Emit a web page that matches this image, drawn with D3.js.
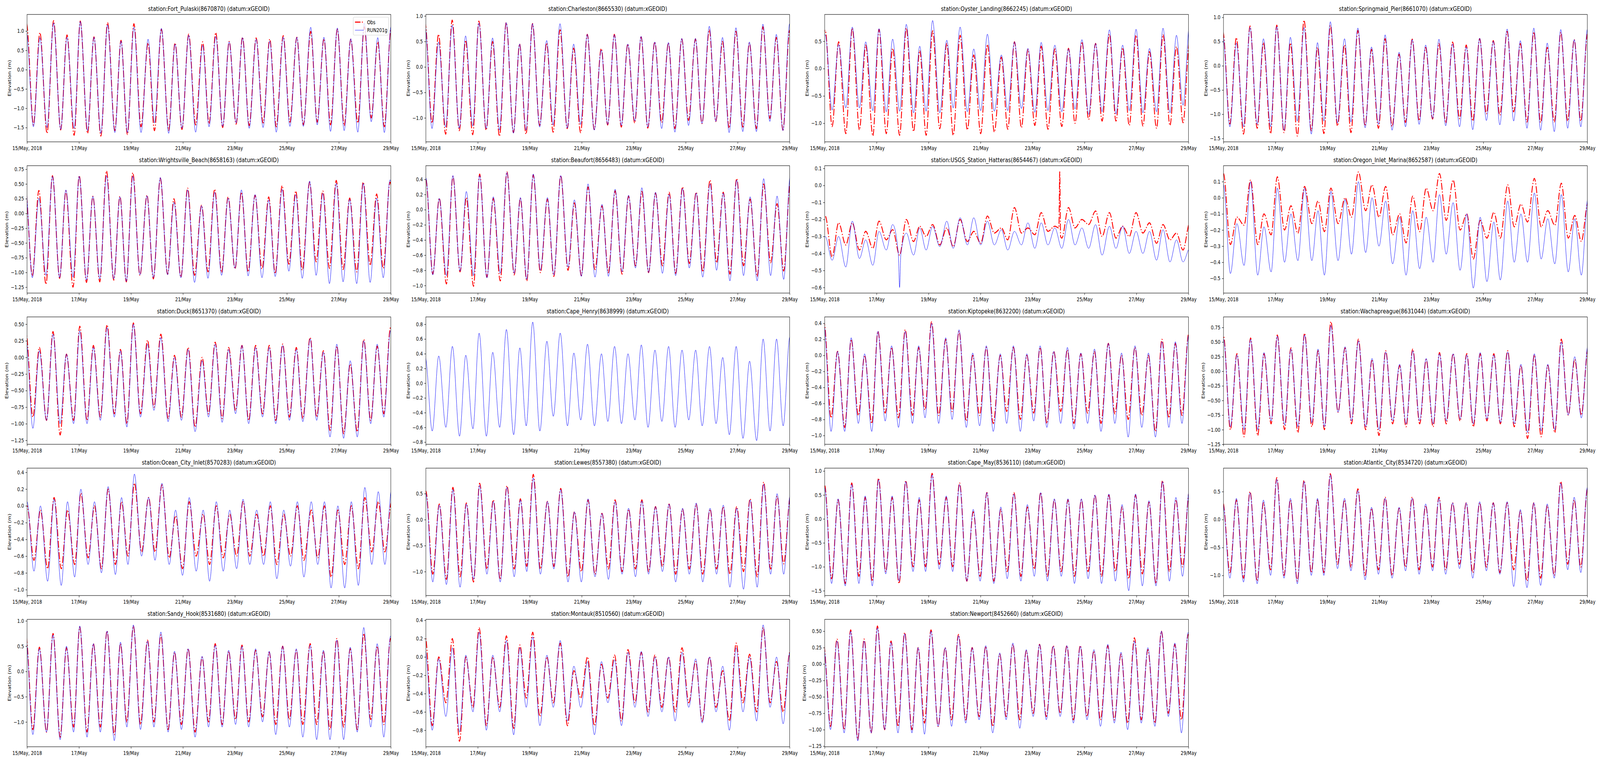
<!DOCTYPE html>
<html>
<head>
<meta charset="utf-8">
<script src="https://cdn.jsdelivr.net/npm/d3@7"></script>
<style>
  html, body { margin: 0; padding: 0; background: #fff; overflow: hidden; }
  #fig { display: block; width: 100vw; height: 100vh; }
  text { font-family: "DejaVu Sans", sans-serif; fill: #000; }
</style>
</head>
<body>
<svg id="fig"></svg>
<script>
// ---- time axis (hours after 15/May/2018 00:00) ----
const xTickHours = [0, 48, 96, 144, 192, 240, 288, 336];
const xTickLabels = ["15/May, 2018", "17/May", "19/May", "21/May", "23/May", "25/May", "27/May", "29/May"];

// high / low water times (hours); other stations are shifted by a lag
const hwHours = [-0.5, 11.9, 24.5, 36.9, 49.2, 61.8, 74.4, 86.8, 98.7, 111.8, 124.1, 136.7, 149.3, 162.2,
  174.3, 186.7, 199.0, 211.6, 224.2, 236.6, 249.2, 262.0, 274.2, 286.6, 299.0, 311.5, 323.9, 336.2];
const lwHours = [-6.6, 5.9, 18.5, 31.1, 43.5, 55.9, 68.2, 81.1, 92.7, 105.3, 117.7, 130.8, 143.1, 155.7,
  168.1, 180.7, 193.1, 205.2, 218.0, 230.2, 242.8, 255.2, 268.0, 280.3, 292.9, 305.5, 317.9, 330.0, 342.5];

// ---- stations ----
const stationNames = ["Fort_Pulaski", "Charleston", "Oyster_Landing", "Springmaid_Pier",
  "Wrightsville_Beach", "Beaufort", "USGS_Station_Hatteras", "Oregon_Inlet_Marina",
  "Duck", "Cape_Henry", "Kiptopeke", "Wachapreague",
  "Ocean_City_Inlet", "Lewes", "Cape_May", "Atlantic_City",
  "Sandy_Hook", "Montauk", "Newport"];
const stationIds = ["8670870", "8665530", "8662245", "8661070", "8658163", "8656483", "8654467", "8652587",
  "8651370", "8638999", "8632200", "8631044", "8570283", "8557380", "8536110", "8534720",
  "8531680", "8510560", "8452660"];
const stationLags = [0, -0.2, 1.0, 0, -1.0, 0.5, 1.0, 0.5, -0.5, 0, 0, 0.5, 0.5, 0.5, 0.5, 0, -0.5, 0, -0.5];
const yLimits = [[-1.87, 1.43], [-1.47, 1.03], [-1.34, 0.99], [-1.57, 1.06],
  [-1.35, 0.81], [-1.10, 0.58], [-0.633, 0.116], [-0.591, 0.199],
  [-1.31, 0.61], [-0.83, 0.90], [-1.11, 0.48], [-1.25, 0.93],
  [-1.07, 0.45], [-1.46, 0.99], [-1.60, 1.06], [-1.36, 0.92],
  [-1.49, 1.03], [-0.98, 0.41], [-1.26, 0.68]];
const yTicks = [
  [-1.5, -1.0, -0.5, 0.0, 0.5, 1.0], [-1.0, -0.5, 0.0, 0.5, 1.0], [-1.0, -0.5, 0.0, 0.5], [-1.5, -1.0, -0.5, 0.0, 0.5, 1.0],
  [-1.25, -1.0, -0.75, -0.5, -0.25, 0.0, 0.25, 0.5, 0.75], [-1.0, -0.8, -0.6, -0.4, -0.2, 0.0, 0.2, 0.4],
  [-0.6, -0.5, -0.4, -0.3, -0.2, -0.1, 0.0, 0.1], [-0.5, -0.4, -0.3, -0.2, -0.1, 0.0, 0.1],
  [-1.25, -1.0, -0.75, -0.5, -0.25, 0.0, 0.25, 0.5], [-0.8, -0.6, -0.4, -0.2, 0.0, 0.2, 0.4, 0.6, 0.8],
  [-1.0, -0.8, -0.6, -0.4, -0.2, 0.0, 0.2, 0.4], [-1.25, -1.0, -0.75, -0.5, -0.25, 0.0, 0.25, 0.5, 0.75],
  [-1.0, -0.8, -0.6, -0.4, -0.2, 0.0, 0.2, 0.4], [-1.0, -0.5, 0.0, 0.5], [-1.5, -1.0, -0.5, 0.0, 0.5, 1.0], [-1.0, -0.5, 0.0, 0.5],
  [-1.0, -0.5, 0.0, 0.5, 1.0], [-0.8, -0.6, -0.4, -0.2, 0.0, 0.2, 0.4], [-1.25, -1.0, -0.75, -0.5, -0.25, 0.0, 0.25, 0.5]];
const yTickDecimals = [1, 1, 1, 1, 2, 1, 1, 1, 2, 1, 1, 2, 1, 1, 1, 1, 1, 1, 2];

// ---- elevations at each high (Hi) and low (Lo) water, metres ----
const pulaskiObsHi = [1.20, 0.96, 1.27, 0.90, 1.26, 0.85, 1.22, 0.76, 1.19, 0.69, 1.05, 0.69, 0.92, 0.72, 0.96, 0.73, 0.84, 0.82, 0.79, 0.88, 0.84, 0.99, 0.80, 1.05, 0.79, 1.11, 0.72, 1.06];
const pulaskiObsLo = [-1.45, -1.43, -1.65, -1.56, -1.70, -1.65, -1.72, -1.58, -1.68, -1.48, -1.58, -1.57, -1.55, -1.43, -1.40, -1.50, -1.41, -1.45, -1.38, -1.48, -1.36, -1.43, -1.36, -1.43, -1.45, -1.38, -1.25, -1.48, -1.40];
const pulaskiModHi = [0.97, 0.83, 1.21, 0.84, 1.25, 0.84, 1.16, 0.74, 1.10, 0.79, 1.07, 0.66, 0.89, 0.63, 0.86, 0.72, 0.83, 0.79, 0.74, 0.84, 0.84, 1.10, 0.84, 1.08, 0.80, 1.21, 0.83, 1.12];
const pulaskiModLo = [-1.45, -1.48, -1.50, -1.55, -1.52, -1.58, -1.65, -1.63, -1.63, -1.63, -1.38, -1.65, -1.52, -1.62, -1.48, -1.47, -1.38, -1.52, -1.50, -1.62, -1.47, -1.47, -1.43, -1.60, -1.58, -1.62, -1.35, -1.63, -1.45];

const charlestonObsHi = [0.86, 0.64, 0.92, 0.52, 0.90, 0.50, 0.87, 0.45, 0.85, 0.47, 0.73, 0.37, 0.64, 0.36, 0.64, 0.45, 0.59, 0.49, 0.47, 0.55, 0.55, 0.73, 0.50, 0.70, 0.47, 0.79, 0.58, 0.72];
const charlestonObsLo = [-1.20, -1.10, -1.32, -1.25, -1.33, -1.24, -1.36, -1.29, -1.32, -1.15, -1.28, -1.21, -1.29, -1.23, -1.14, -1.18, -1.10, -1.20, -1.09, -1.21, -1.05, -1.11, -1.07, -1.20, -1.18, -1.21, -1.01, -1.24, -1.10];
const charlestonModHi = [0.80, 0.49, 0.82, 0.61, 0.86, 0.57, 0.87, 0.45, 0.85, 0.52, 0.85, 0.45, 0.64, 0.33, 0.63, 0.45, 0.60, 0.49, 0.48, 0.56, 0.56, 0.80, 0.58, 0.77, 0.49, 0.84, 0.64, 0.85];
const charlestonModLo = [-1.20, -1.21, -1.18, -1.20, -1.16, -1.21, -1.24, -1.30, -1.24, -1.18, -1.14, -1.20, -1.13, -1.24, -1.13, -1.15, -1.06, -1.18, -1.21, -1.28, -1.15, -1.11, -1.07, -1.29, -1.27, -1.27, -1.07, -1.25, -1.10];

const oysterObsHi = [0.70, 0.49, 0.74, 0.43, 0.72, 0.37, 0.74, 0.33, 0.69, 0.46, 0.61, 0.25, 0.44, 0.21, 0.49, 0.35, 0.41, 0.36, 0.37, 0.49, 0.46, 0.63, 0.38, 0.61, 0.31, 0.62, 0.40, 0.55];
const oysterObsLo = [-1.10, -1.06, -1.19, -1.12, -1.23, -1.19, -1.22, -1.15, -1.22, -1.10, -1.22, -1.12, -1.19, -1.16, -1.11, -1.08, -1.04, -1.11, -1.06, -1.00, -0.93, -0.96, -0.96, -1.04, -1.05, -1.09, -1.04, -0.99, -1.00];
const oysterModHi = [0.62, 0.44, 0.76, 0.49, 0.73, 0.54, 0.81, 0.41, 0.88, 0.52, 0.76, 0.36, 0.63, 0.25, 0.49, 0.37, 0.48, 0.43, 0.36, 0.53, 0.46, 0.71, 0.43, 0.72, 0.37, 0.74, 0.61, 0.84];
const oysterModLo = [-0.75, -0.76, -0.72, -0.72, -0.77, -0.79, -0.78, -0.81, -0.78, -0.81, -0.72, -0.79, -0.77, -0.78, -0.77, -0.73, -0.80, -0.77, -0.79, -0.74, -0.84, -0.79, -0.83, -0.77, -0.81, -0.79, -0.81, -0.67, -0.75];

const springmaidObsHi = [0.70, 0.58, 0.82, 0.48, 0.84, 0.47, 0.94, 0.38, 0.83, 0.43, 0.73, 0.34, 0.56, 0.24, 0.55, 0.38, 0.46, 0.49, 0.43, 0.56, 0.52, 0.71, 0.46, 0.70, 0.38, 0.69, 0.54, 0.66];
const springmaidObsLo = [-1.20, -1.20, -1.41, -1.29, -1.40, -1.38, -1.45, -1.34, -1.40, -1.24, -1.38, -1.24, -1.29, -1.25, -1.17, -1.13, -1.10, -1.18, -1.09, -1.14, -0.99, -1.02, -0.95, -1.16, -1.17, -1.16, -1.14, -1.14, -1.10];
const springmaidModHi = [0.62, 0.47, 0.79, 0.56, 0.81, 0.59, 0.79, 0.48, 0.91, 0.56, 0.78, 0.39, 0.64, 0.28, 0.54, 0.43, 0.55, 0.45, 0.39, 0.57, 0.51, 0.76, 0.52, 0.78, 0.47, 0.75, 0.54, 0.76];
const springmaidModLo = [-1.20, -1.26, -1.26, -1.21, -1.26, -1.33, -1.14, -1.41, -1.14, -1.18, -1.16, -1.28, -1.21, -1.33, -1.26, -1.21, -1.09, -1.24, -1.26, -1.32, -1.13, -1.22, -1.14, -1.29, -1.33, -1.36, -1.29, -1.26, -1.20];

const wrightsvilleObsHi = [0.42, 0.39, 0.64, 0.38, 0.64, 0.29, 0.72, 0.29, 0.69, 0.31, 0.60, 0.25, 0.43, 0.14, 0.41, 0.28, 0.36, 0.31, 0.28, 0.47, 0.38, 0.53, 0.38, 0.56, 0.26, 0.53, 0.33, 0.53];
const wrightsvilleObsLo = [-1.00, -1.06, -1.20, -1.10, -1.25, -1.17, -1.16, -1.13, -1.16, -1.05, -1.11, -1.03, -1.08, -1.05, -0.99, -1.00, -0.94, -0.99, -0.94, -1.02, -0.86, -0.96, -0.82, -0.93, -0.95, -0.99, -0.88, -0.93, -0.90];
const wrightsvilleModHi = [0.47, 0.26, 0.63, 0.40, 0.63, 0.29, 0.64, 0.28, 0.63, 0.30, 0.61, 0.19, 0.40, 0.13, 0.36, 0.26, 0.40, 0.32, 0.23, 0.41, 0.32, 0.55, 0.34, 0.51, 0.24, 0.51, 0.26, 0.57];
const wrightsvilleModLo = [-1.00, -1.09, -1.05, -1.09, -1.08, -1.13, -1.11, -1.11, -1.15, -1.04, -1.09, -1.04, -1.09, -1.17, -1.10, -1.05, -0.93, -1.06, -1.09, -1.07, -0.98, -1.10, -1.05, -1.19, -1.16, -1.19, -1.17, -1.09, -1.00];

const beaufortObsHi = [0.40, 0.15, 0.44, 0.16, 0.47, 0.15, 0.50, 0.15, 0.46, 0.14, 0.45, 0.09, 0.30, 0.05, 0.25, 0.18, 0.24, 0.22, 0.23, 0.30, 0.23, 0.39, 0.23, 0.41, 0.14, 0.34, 0.08, 0.38];
const beaufortObsLo = [-0.80, -0.85, -0.98, -0.82, -1.01, -0.89, -0.94, -0.86, -0.94, -0.83, -0.88, -0.80, -0.87, -0.79, -0.83, -0.85, -0.74, -0.83, -0.74, -0.84, -0.71, -0.82, -0.70, -0.85, -0.74, -0.88, -0.70, -0.81, -0.80];
const beaufortModHi = [0.42, 0.15, 0.45, 0.24, 0.45, 0.17, 0.49, 0.16, 0.47, 0.16, 0.45, 0.13, 0.34, 0.07, 0.27, 0.19, 0.29, 0.23, 0.20, 0.28, 0.22, 0.34, 0.22, 0.39, 0.17, 0.41, 0.18, 0.47];
const beaufortModLo = [-0.80, -0.86, -0.87, -0.81, -0.87, -0.90, -0.84, -0.84, -0.92, -0.80, -0.86, -0.76, -0.88, -0.89, -0.88, -0.82, -0.77, -0.83, -0.84, -0.87, -0.77, -0.89, -0.80, -0.94, -0.87, -0.94, -0.87, -0.92, -0.85];

const hatterasObsHi = [-0.18, -0.22, -0.22, -0.27, -0.21, -0.26, -0.20, -0.24, -0.23, -0.25, -0.20, -0.27, -0.18, -0.25, -0.13, -0.25, -0.16, -0.24, -0.13, -0.20, -0.15, -0.16, -0.24, -0.16, -0.22, -0.23, -0.28, -0.22];
const hatterasObsLo = [-0.30, -0.42, -0.35, -0.38, -0.37, -0.32, -0.41, -0.33, -0.30, -0.35, -0.36, -0.33, -0.34, -0.28, -0.32, -0.28, -0.29, -0.27, -0.31, -0.25, -0.23, -0.30, -0.31, -0.30, -0.28, -0.34, -0.32, -0.38, -0.30];
const hatterasModHi = [-0.30, -0.30, -0.21, -0.32, -0.27, -0.23, -0.28, -0.25, -0.24, -0.21, -0.19, -0.19, -0.21, -0.26, -0.27, -0.22, -0.22, -0.25, -0.20, -0.25, -0.23, -0.24, -0.24, -0.27, -0.27, -0.26, -0.32, -0.37];
const hatterasModLo = [-0.40, -0.44, -0.48, -0.43, -0.47, -0.38, -0.60, -0.41, -0.38, -0.36, -0.37, -0.35, -0.35, -0.35, -0.38, -0.35, -0.37, -0.35, -0.37, -0.35, -0.37, -0.41, -0.37, -0.40, -0.40, -0.44, -0.45, -0.45, -0.40];
// short spikes [hour, metres]
const hatterasObsExtra = [[216.3, -0.25], [217.1, 0.08], [217.9, -0.30]];
const hatterasModExtra = [[68.0, -0.40], [70.4, -0.40]];

const oregonObsHi = [0.15, -0.12, 0.11, -0.10, 0.13, -0.05, 0.07, -0.02, 0.06, 0.00, 0.16, 0.08, 0.07, -0.10, 0.01, 0.06, 0.15, 0.11, -0.10, -0.14, -0.09, 0.08, -0.04, 0.12, -0.08, 0.09, -0.11, -0.03];
const oregonObsLo = [-0.20, -0.29, -0.17, -0.29, -0.23, -0.20, -0.22, -0.16, -0.21, -0.16, -0.12, -0.08, -0.12, -0.23, -0.28, -0.21, -0.08, -0.14, -0.20, -0.38, -0.25, -0.25, -0.18, -0.15, -0.18, -0.17, -0.25, -0.27, -0.20];
const oregonModHi = [0.08, -0.16, 0.10, -0.18, 0.06, -0.10, 0.06, -0.08, 0.04, -0.01, 0.10, 0.00, -0.02, -0.12, -0.08, -0.12, 0.02, -0.03, -0.10, -0.12, -0.15, -0.02, -0.10, 0.03, -0.13, 0.02, -0.13, 0.00];
const oregonModLo = [-0.40, -0.47, -0.42, -0.48, -0.46, -0.40, -0.39, -0.39, -0.48, -0.39, -0.35, -0.34, -0.30, -0.41, -0.48, -0.44, -0.40, -0.35, -0.45, -0.56, -0.52, -0.51, -0.40, -0.40, -0.38, -0.41, -0.46, -0.48, -0.40];

const duckObsHi = [0.38, 0.15, 0.39, 0.05, 0.47, 0.18, 0.49, 0.12, 0.52, 0.26, 0.35, 0.03, 0.15, 0.00, 0.23, 0.15, 0.18, 0.18, 0.18, 0.20, 0.15, 0.30, 0.10, 0.17, -0.10, 0.27, 0.17, 0.45];
const duckObsLo = [-0.90, -0.90, -0.95, -1.17, -0.95, -0.95, -0.90, -0.85, -1.00, -0.85, -0.75, -0.92, -0.90, -1.05, -0.85, -0.92, -0.80, -0.95, -0.85, -0.95, -0.90, -0.92, -0.90, -1.10, -1.15, -1.12, -0.95, -0.85, -0.90];
const duckModHi = [0.30, 0.10, 0.35, 0.05, 0.40, 0.15, 0.45, 0.10, 0.50, 0.20, 0.30, 0.00, 0.12, -0.05, 0.20, 0.12, 0.18, 0.15, 0.15, 0.18, 0.12, 0.28, 0.08, 0.20, -0.05, 0.25, 0.20, 0.40];
const duckModLo = [-1.00, -1.07, -0.95, -1.00, -1.00, -1.00, -0.95, -0.90, -1.05, -0.90, -0.80, -0.97, -0.95, -1.12, -0.90, -0.98, -0.85, -1.00, -0.90, -1.00, -0.95, -0.97, -0.95, -1.20, -1.22, -1.20, -1.00, -0.90, -1.00];

const capeHenryModHi = [0.35, 0.37, 0.50, 0.38, 0.68, 0.42, 0.73, 0.48, 0.83, 0.57, 0.68, 0.41, 0.53, 0.40, 0.50, 0.40, 0.52, 0.45, 0.50, 0.45, 0.45, 0.50, 0.35, 0.50, 0.30, 0.60, 0.60, 0.63];
const capeHenryModLo = [-0.60, -0.65, -0.60, -0.72, -0.62, -0.72, -0.60, -0.70, -0.58, -0.65, -0.45, -0.58, -0.50, -0.58, -0.52, -0.55, -0.50, -0.60, -0.52, -0.60, -0.50, -0.58, -0.55, -0.70, -0.75, -0.78, -0.65, -0.58, -0.60];

const kiptopekeObsHi = [0.40, 0.05, 0.20, 0.00, 0.30, 0.10, 0.32, 0.10, 0.42, 0.20, 0.30, 0.00, 0.10, 0.00, 0.10, 0.00, 0.10, 0.05, 0.07, 0.02, 0.05, 0.15, 0.00, 0.10, 0.00, 0.20, 0.15, 0.27];
const kiptopekeObsLo = [-0.80, -0.78, -0.90, -0.75, -0.85, -0.72, -0.78, -0.75, -0.68, -0.75, -0.70, -0.82, -0.75, -0.85, -0.70, -0.80, -0.72, -0.85, -0.70, -0.85, -0.72, -0.85, -0.73, -0.80, -0.75, -0.95, -0.78, -0.75, -0.80];
const kiptopekeModHi = [0.37, 0.05, 0.22, 0.02, 0.30, 0.12, 0.30, 0.12, 0.40, 0.22, 0.32, 0.03, 0.12, 0.02, 0.12, 0.02, 0.12, 0.05, 0.10, 0.03, 0.08, 0.15, 0.03, 0.12, 0.03, 0.17, 0.17, 0.25];
const kiptopekeModLo = [-0.90, -0.95, -0.95, -0.85, -0.95, -0.82, -0.90, -0.85, -0.78, -0.85, -0.80, -0.90, -0.88, -0.95, -0.85, -0.95, -0.82, -0.90, -0.85, -0.92, -0.85, -0.95, -0.85, -1.02, -0.90, -1.02, -0.90, -0.85, -0.90];

const wachapreagueObsHi = [0.60, 0.30, 0.57, 0.30, 0.62, 0.40, 0.65, 0.35, 0.85, 0.40, 0.55, 0.20, 0.35, 0.10, 0.38, 0.20, 0.32, 0.30, 0.30, 0.30, 0.30, 0.35, 0.10, 0.28, 0.10, 0.55, 0.20, 0.40];
const wachapreagueObsLo = [-0.90, -1.00, -1.12, -1.10, -0.90, -1.00, -1.05, -0.95, -1.00, -0.70, -0.90, -1.00, -1.10, -0.90, -0.95, -0.90, -0.95, -0.90, -0.85, -0.95, -0.85, -0.90, -0.95, -1.15, -1.12, -1.05, -0.75, -0.75, -0.80];
const wachapreagueModHi = [0.55, 0.28, 0.55, 0.32, 0.60, 0.38, 0.62, 0.38, 0.78, 0.42, 0.52, 0.22, 0.33, 0.12, 0.35, 0.22, 0.30, 0.30, 0.28, 0.32, 0.28, 0.33, 0.12, 0.30, 0.12, 0.50, 0.25, 0.45];
const wachapreagueModLo = [-0.90, -0.95, -1.00, -1.00, -0.85, -0.92, -0.95, -0.88, -0.95, -0.70, -0.85, -0.95, -1.00, -0.85, -0.90, -0.85, -0.90, -0.85, -0.82, -0.90, -0.82, -0.88, -0.90, -1.05, -1.02, -1.00, -0.75, -0.80, -0.80];

const oceanCityObsHi = [0.00, -0.05, 0.10, -0.05, 0.15, 0.00, 0.20, 0.05, 0.27, 0.10, 0.25, -0.12, 0.05, -0.10, 0.00, -0.10, 0.05, -0.10, 0.00, -0.10, 0.00, -0.05, 0.00, -0.05, 0.00, 0.10, 0.05, 0.05];
const oceanCityObsLo = [-0.60, -0.65, -0.75, -0.75, -0.70, -0.62, -0.75, -0.70, -0.60, -0.55, -0.55, -0.62, -0.75, -0.60, -0.70, -0.62, -0.60, -0.60, -0.60, -0.70, -0.60, -0.65, -0.62, -0.85, -0.70, -0.75, -0.55, -0.55, -0.60];
const oceanCityModHi = [0.05, 0.00, 0.08, 0.05, 0.20, 0.05, 0.23, 0.10, 0.38, 0.10, 0.27, -0.05, 0.10, -0.05, 0.05, -0.05, 0.08, -0.05, 0.05, -0.05, 0.05, 0.05, 0.05, 0.00, 0.05, 0.22, 0.17, 0.20];
const oceanCityModLo = [-0.70, -0.78, -0.90, -0.95, -0.85, -0.70, -0.80, -0.82, -0.70, -0.60, -0.65, -0.70, -0.83, -0.78, -0.90, -0.78, -0.75, -0.70, -0.70, -0.87, -0.72, -0.85, -0.70, -0.98, -0.98, -0.95, -0.70, -0.70, -0.70];

const lewesObsHi = [0.55, 0.30, 0.62, 0.32, 0.70, 0.38, 0.65, 0.40, 0.87, 0.35, 0.60, 0.15, 0.38, 0.12, 0.38, 0.20, 0.38, 0.25, 0.30, 0.20, 0.30, 0.20, 0.25, 0.25, 0.40, 0.72, 0.45, 0.45];
const lewesObsLo = [-1.00, -1.05, -1.15, -1.10, -1.20, -0.95, -1.15, -0.95, -0.90, -0.95, -0.90, -1.10, -1.00, -1.05, -0.95, -1.00, -0.95, -1.00, -0.90, -1.05, -0.95, -1.05, -0.95, -1.05, -1.00, -1.10, -0.95, -0.85, -0.90];
const lewesModHi = [0.50, 0.28, 0.58, 0.30, 0.66, 0.35, 0.62, 0.38, 0.80, 0.35, 0.58, 0.15, 0.40, 0.12, 0.35, 0.22, 0.36, 0.25, 0.30, 0.22, 0.32, 0.22, 0.28, 0.22, 0.38, 0.68, 0.50, 0.50];
const lewesModLo = [-1.10, -1.20, -1.25, -1.30, -1.15, -1.05, -1.20, -1.10, -1.00, -1.05, -0.95, -1.20, -1.20, -1.10, -1.15, -1.05, -1.10, -1.05, -1.00, -1.20, -1.05, -1.20, -1.05, -1.30, -1.34, -1.30, -1.05, -1.05, -1.10];

const capeMayObsHi = [0.70, 0.40, 0.75, 0.45, 0.85, 0.45, 0.80, 0.40, 0.95, 0.45, 0.75, 0.15, 0.55, 0.20, 0.55, 0.25, 0.55, 0.40, 0.40, 0.40, 0.50, 0.50, 0.25, 0.50, 0.35, 0.80, 0.40, 0.55];
const capeMayObsLo = [-1.20, -1.25, -1.35, -1.20, -1.30, -1.10, -1.35, -1.00, -1.00, -0.95, -1.00, -1.30, -1.20, -1.30, -1.10, -1.20, -1.05, -1.20, -1.10, -1.20, -1.10, -1.20, -1.10, -1.25, -1.15, -1.35, -1.10, -1.00, -1.10];
const capeMayModHi = [0.65, 0.42, 0.72, 0.48, 0.82, 0.48, 0.78, 0.45, 0.92, 0.48, 0.72, 0.20, 0.55, 0.25, 0.52, 0.30, 0.55, 0.42, 0.42, 0.42, 0.50, 0.52, 0.30, 0.52, 0.38, 0.78, 0.45, 0.60];
const capeMayModLo = [-1.30, -1.35, -1.40, -1.35, -1.40, -1.15, -1.30, -1.10, -1.10, -1.05, -1.10, -1.30, -1.30, -1.35, -1.25, -1.30, -1.20, -1.30, -1.20, -1.35, -1.25, -1.35, -1.30, -1.50, -1.40, -1.40, -1.30, -1.20, -1.20];

const atlanticCityObsHi = [0.30, 0.35, 0.50, 0.30, 0.75, 0.35, 0.70, 0.35, 0.82, 0.35, 0.55, 0.20, 0.40, 0.20, 0.40, 0.25, 0.40, 0.30, 0.30, 0.30, 0.30, 0.30, 0.15, 0.30, 0.25, 0.68, 0.35, 0.55];
const atlanticCityObsLo = [-0.90, -0.95, -1.05, -1.10, -0.90, -1.00, -1.10, -0.95, -0.95, -0.80, -0.85, -1.00, -0.90, -1.00, -0.85, -0.90, -0.85, -0.90, -0.80, -0.95, -0.85, -0.95, -0.90, -1.10, -1.05, -1.00, -0.80, -0.85, -0.90];
const atlanticCityModHi = [0.28, 0.38, 0.48, 0.35, 0.72, 0.38, 0.68, 0.38, 0.80, 0.38, 0.52, 0.22, 0.38, 0.22, 0.38, 0.28, 0.38, 0.30, 0.30, 0.32, 0.30, 0.32, 0.18, 0.30, 0.28, 0.65, 0.40, 0.58];
const atlanticCityModLo = [-1.00, -1.05, -1.12, -1.15, -1.00, -1.05, -1.15, -1.00, -1.00, -0.88, -0.92, -1.08, -0.98, -1.05, -0.92, -0.98, -0.92, -0.98, -0.88, -1.05, -0.92, -0.98, -1.20, -1.22, -1.18, -1.05, -0.90, -0.95, -1.00];

const sandyHookObsHi = [0.70, 0.48, 0.75, 0.47, 0.88, 0.55, 0.80, 0.55, 0.90, 0.62, 0.72, 0.38, 0.45, 0.28, 0.55, 0.40, 0.52, 0.42, 0.38, 0.50, 0.42, 0.55, 0.40, 0.65, 0.45, 0.75, 0.50, 0.65];
const sandyHookObsLo = [-1.10, -1.15, -1.20, -1.30, -1.10, -1.20, -1.10, -1.25, -1.00, -1.05, -1.00, -1.15, -1.05, -1.20, -1.00, -1.05, -0.95, -1.00, -0.90, -1.05, -0.95, -1.05, -1.05, -1.15, -1.10, -1.15, -0.95, -1.05, -1.00];
const sandyHookModHi = [0.65, 0.45, 0.72, 0.50, 0.90, 0.55, 0.80, 0.58, 0.92, 0.60, 0.78, 0.40, 0.45, 0.30, 0.52, 0.42, 0.50, 0.45, 0.40, 0.50, 0.45, 0.52, 0.42, 0.62, 0.48, 0.87, 0.55, 0.70];
const sandyHookModLo = [-1.20, -1.25, -1.20, -1.35, -1.20, -1.30, -1.20, -1.37, -1.10, -1.15, -1.10, -1.20, -1.15, -1.30, -1.10, -1.10, -1.05, -1.10, -1.00, -1.25, -1.10, -1.30, -1.35, -1.35, -1.35, -1.20, -1.10, -1.30, -1.20];

const montaukObsHi = [0.22, 0.00, 0.20, 0.00, 0.32, 0.00, 0.23, 0.13, 0.27, 0.00, 0.15, -0.15, 0.00, -0.08, 0.02, 0.08, 0.05, 0.02, 0.00, 0.10, -0.05, 0.00, -0.15, 0.15, 0.03, 0.32, -0.05, 0.05];
const montaukObsLo = [-0.60, -0.75, -0.50, -0.92, -0.55, -0.75, -0.55, -0.78, -0.45, -0.65, -0.50, -0.75, -0.45, -0.75, -0.45, -0.70, -0.50, -0.60, -0.55, -0.60, -0.50, -0.70, -0.55, -0.70, -0.50, -0.60, -0.50, -0.60, -0.60];
const montaukModHi = [0.07, -0.02, 0.10, 0.02, 0.27, 0.02, 0.18, 0.10, 0.22, 0.02, 0.18, -0.10, -0.05, -0.05, -0.03, 0.05, 0.06, 0.00, 0.00, 0.05, -0.02, 0.00, -0.10, 0.10, 0.00, 0.35, 0.00, 0.05];
const montaukModLo = [-0.70, -0.80, -0.65, -0.82, -0.60, -0.80, -0.60, -0.85, -0.55, -0.75, -0.55, -0.70, -0.55, -0.85, -0.50, -0.75, -0.55, -0.65, -0.60, -0.70, -0.55, -0.72, -0.60, -0.80, -0.60, -0.70, -0.55, -0.73, -0.70];

const newportObsHi = [0.30, 0.38, 0.52, 0.38, 0.58, 0.35, 0.48, 0.25, 0.52, 0.25, 0.45, 0.25, 0.27, 0.15, 0.30, 0.20, 0.30, 0.28, 0.28, 0.28, 0.20, 0.28, 0.15, 0.40, 0.22, 0.50, 0.30, 0.45];
const newportObsLo = [-0.90, -0.95, -1.00, -1.15, -1.05, -1.00, -0.95, -1.00, -0.90, -0.95, -0.85, -0.85, -0.80, -0.95, -0.80, -0.85, -0.75, -0.80, -0.75, -0.85, -0.80, -0.85, -0.85, -0.90, -0.85, -0.90, -0.75, -0.85, -0.90];
const newportModHi = [0.28, 0.35, 0.50, 0.35, 0.55, 0.33, 0.46, 0.25, 0.50, 0.25, 0.43, 0.25, 0.28, 0.17, 0.32, 0.22, 0.30, 0.27, 0.28, 0.27, 0.22, 0.30, 0.18, 0.35, 0.25, 0.50, 0.32, 0.48];
const newportModLo = [-1.00, -1.00, -1.05, -1.17, -1.05, -1.00, -1.05, -1.05, -1.07, -0.95, -0.95, -0.90, -0.85, -1.05, -0.85, -0.98, -0.80, -0.85, -0.80, -0.90, -0.85, -0.95, -0.90, -1.00, -0.90, -0.95, -0.80, -1.05, -1.00];

// per-station lookup (same order as stationNames)
const obsHi = [pulaskiObsHi, charlestonObsHi, oysterObsHi, springmaidObsHi, wrightsvilleObsHi, beaufortObsHi, hatterasObsHi, oregonObsHi,
  duckObsHi, null, kiptopekeObsHi, wachapreagueObsHi, oceanCityObsHi, lewesObsHi, capeMayObsHi, atlanticCityObsHi,
  sandyHookObsHi, montaukObsHi, newportObsHi];
const obsLo = [pulaskiObsLo, charlestonObsLo, oysterObsLo, springmaidObsLo, wrightsvilleObsLo, beaufortObsLo, hatterasObsLo, oregonObsLo,
  duckObsLo, null, kiptopekeObsLo, wachapreagueObsLo, oceanCityObsLo, lewesObsLo, capeMayObsLo, atlanticCityObsLo,
  sandyHookObsLo, montaukObsLo, newportObsLo];
const modHi = [pulaskiModHi, charlestonModHi, oysterModHi, springmaidModHi, wrightsvilleModHi, beaufortModHi, hatterasModHi, oregonModHi,
  duckModHi, capeHenryModHi, kiptopekeModHi, wachapreagueModHi, oceanCityModHi, lewesModHi, capeMayModHi, atlanticCityModHi,
  sandyHookModHi, montaukModHi, newportModHi];
const modLo = [pulaskiModLo, charlestonModLo, oysterModLo, springmaidModLo, wrightsvilleModLo, beaufortModLo, hatterasModLo, oregonModLo,
  duckModLo, capeHenryModLo, kiptopekeModLo, wachapreagueModLo, oceanCityModLo, lewesModLo, capeMayModLo, atlanticCityModLo,
  sandyHookModLo, montaukModLo, newportModLo];
const obsExtra = {6: hatterasObsExtra};
const modExtra = {6: hatterasModExtra};

// ---- layout (matplotlib 4x5 grid at 100 dpi) ----
const W = 5150, H = 1950;
const PT = 100 / 72;                 // px per point
const FS = 10 * PT;                  // 10pt font
const panelW = 1171, panelH = 326;
const colLeft = c => 87 + c * 1283.7;
const rowTop = r => 37 + r * 387;

// fixed coordinate system, scaled to whatever the window is
const svg = d3.select("#fig")
    .attr("viewBox", `0 0 ${W} ${H}`)
    .attr("preserveAspectRatio", "none");
svg.append("rect").attr("width", W).attr("height", H).attr("fill", "#fff");

// join high and low water values into one time-ordered series
function tidePoints(lo, hi, lag, extra) {
    const pts = [];
    lo.forEach((v, i) => pts.push([lwHours[i] + lag, v]));
    hi.forEach((v, i) => pts.push([hwHours[i] + lag, v]));
    if (extra) extra.forEach(p => pts.push(p));
    return pts.sort((a, b) => a[0] - b[0]);
}

const obsDash = [6.4, 1.6, 1.0, 1.6].map(v => v * 2 * PT).join(" ");

stationNames.forEach((name, k) => {
    const col = k % 4, row = Math.floor(k / 4);
    const g = svg.append("g").attr("transform", `translate(${colLeft(col)},${rowTop(row)})`);

    const x = d3.scaleLinear().domain([0, 336]).range([0, panelW]);
    const y = d3.scaleLinear().domain(yLimits[k]).range([panelH, 0]);

    // clip to the axes box
    const clipId = "clip" + k;
    g.append("clipPath").attr("id", clipId)
        .append("rect").attr("width", panelW).attr("height", panelH);

    const line = d3.line()
        .x(d => x(d[0]))
        .y(d => y(d[1]))
        .curve(d3.curveMonotoneX);

    const plot = g.append("g").attr("clip-path", `url(#${clipId})`);
    if (obsHi[k]) {
        plot.append("path")
            .attr("d", line(tidePoints(obsLo[k], obsHi[k], stationLags[k], obsExtra[k])))
            .attr("fill", "none")
            .attr("stroke", "#ff0000")
            .attr("stroke-width", 2 * PT)
            .attr("stroke-dasharray", obsDash);
    }
    plot.append("path")
        .attr("d", line(tidePoints(modLo[k], modHi[k], stationLags[k], modExtra[k])))
        .attr("fill", "none")
        .attr("stroke", "#0000ff")
        .attr("stroke-width", 1);

    // axes
    const xAxis = d3.axisBottom(x)
        .tickValues(xTickHours)
        .tickFormat((d, i) => xTickLabels[i])
        .tickSize(3.5 * PT).tickPadding(6).tickSizeOuter(0);
    const yAxis = d3.axisLeft(y)
        .tickValues(yTicks[k])
        .tickFormat(d3.format("." + yTickDecimals[k] + "f"))
        .tickSize(3.5 * PT).tickPadding(3.5 * PT).tickSizeOuter(0);

    const gx = g.append("g").attr("transform", `translate(0,${panelH})`).call(xAxis);
    const gy = g.append("g").call(yAxis);
    [gx, gy].forEach(a => {
        a.select(".domain").remove();
        a.selectAll("line").attr("stroke", "#000").attr("stroke-width", 0.8 * PT);
        a.selectAll("text").attr("font-size", FS).attr("font-family", "DejaVu Sans").attr("fill", "#000");
    });

    // spines
    g.append("rect")
        .attr("width", panelW).attr("height", panelH)
        .attr("fill", "none").attr("stroke", "#000").attr("stroke-width", 0.8 * PT);

    // title
    g.append("text")
        .attr("x", panelW / 2).attr("y", -9)
        .attr("text-anchor", "middle")
        .attr("font-size", 12 * PT)
        .text(`station:${name}(${stationIds[k]}) (datum:xGEOID)`);

    // y label, placed left of the widest tick label
    const labelsLeft = gy.node().getBBox().x;
    g.append("text")
        .attr("transform", `translate(${labelsLeft - 4 * PT - 0.24 * FS},${panelH / 2}) rotate(-90)`)
        .attr("text-anchor", "middle")
        .attr("font-size", FS)
        .text("Elevation (m)");

    // legend in the first panel only
    if (k === 0) {
        const boxW = 114, boxH = 46;
        const lg = g.append("g").attr("transform", `translate(${panelW - 0.5 * FS - boxW},${0.5 * FS})`);
        lg.append("rect")
            .attr("width", boxW).attr("height", boxH).attr("rx", 2.8)
            .attr("fill", "#fff").attr("fill-opacity", 0.8)
            .attr("stroke", "#cccccc").attr("stroke-width", 1);
        const entries = [
            {label: "Obs", color: "#ff0000", width: 2 * PT, dash: obsDash},
            {label: "RUN201g", color: "#0000ff", width: 1, dash: null}
        ];
        entries.forEach((e, i) => {
            const cy = 12.7 + i * 20.6;
            lg.append("line")
                .attr("x1", 0.4 * FS).attr("x2", 0.4 * FS + 2 * FS)
                .attr("y1", cy).attr("y2", cy)
                .attr("stroke", e.color).attr("stroke-width", e.width)
                .attr("stroke-dasharray", e.dash);
            lg.append("text")
                .attr("x", 0.4 * FS + 2.8 * FS).attr("y", cy)
                .attr("dy", "0.36em")
                .attr("font-size", FS)
                .text(e.label);
        });
    }
});
</script>
</body>
</html>
